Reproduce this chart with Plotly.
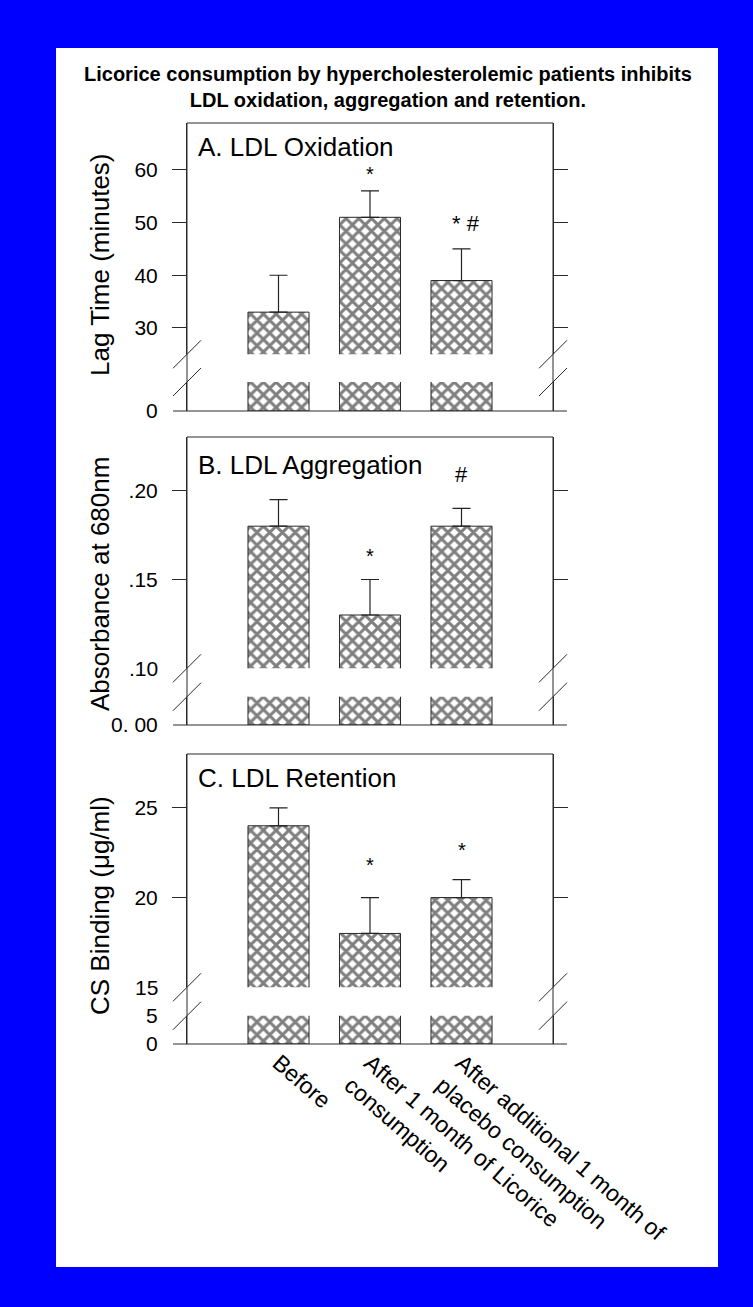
import plotly.graph_objects as go

# ---------------- data ----------------
categories = [
    "Before",
    "After 1 month of Licorice<br>consumption",
    "After additional 1 month of<br>placebo consumption",
]

oxidation_mean = [33, 51, 39]
oxidation_err = [7, 5, 6]
oxidation_marks = ["", "*", "* #"]

aggregation_mean = [0.18, 0.13, 0.18]
aggregation_err = [0.015, 0.02, 0.01]
aggregation_marks = ["", "*", "#"]

retention_mean = [24, 18, 20]
retention_err = [1, 2, 1]
retention_marks = ["", "*", "*"]

oxidation_ticks = [30, 40, 50, 60]
oxidation_ticktext = ["30", "40", "50", "60"]
aggregation_ticks = [0.15, 0.20]
aggregation_ticktext = [".15", ".20"]
retention_ticks = [20, 25]
retention_ticktext = ["20", "25"]

# ---------------- layout geometry (pixels) ----------------
W, H = 753, 1307
FONT = "Liberation Sans, Arial, Helvetica, sans-serif"
LINE = "#2a2a2a"
X_LEFT, X_RIGHT = 187, 553
TICK = 14


def px(x):
    return x / W


def py(y):
    return 1 - y / H


panels = [
    dict(mean=oxidation_mean, err=oxidation_err, marks=oxidation_marks,
         mark_shift=[0, 17, 25],
         up_range=[25, 68.9], lo_range=[0, 5.5],
         up_ticks=oxidation_ticks, up_text=oxidation_ticktext,
         lo_ticks=[0], lo_text=["0"], extra=None,
         top=123, brk_top=354.3, brk_bot=382, bottom=411,
         title="A. LDL Oxidation", title_y=147,
         ytitle="Lag Time (minutes)", ytitle_y=265),
    dict(mean=aggregation_mean, err=aggregation_err, marks=aggregation_marks,
         mark_shift=[0, 23, 34],
         up_range=[0.10, 0.2302], lo_range=[0, 0.016],
         up_ticks=aggregation_ticks, up_text=aggregation_ticktext,
         lo_ticks=[0], lo_text=["0. 00"], extra=(0.10, ".10"),
         top=437, brk_top=668.3, brk_bot=696.7, bottom=725,
         title="B. LDL Aggregation", title_y=465,
         ytitle="Absorbance at 680nm", ytitle_y=584),
    dict(mean=retention_mean, err=retention_err, marks=retention_marks,
         mark_shift=[0, 33, 30],
         up_range=[15, 28], lo_range=[0, 5],
         up_ticks=retention_ticks, up_text=retention_ticktext,
         lo_ticks=[0, 5], lo_text=["0", "5"], extra=(15, "15"),
         top=754, brk_top=987.3, brk_bot=1015.7, bottom=1044,
         title="C. LDL Retention", title_y=778,
         ytitle="CS Binding (μg/ml)", ytitle_y=906),
]

fig = go.Figure()

bar_marker = dict(
    color="white",
    pattern=dict(shape="x", fgcolor="black", bgcolor="white", size=9, solidity=0.55),
    line=dict(color=LINE, width=1),
)

shapes = [
    dict(type="rect", xref="paper", yref="paper", x0=px(56), x1=px(718),
         y0=py(1267), y1=py(48), fillcolor="white", line=dict(width=0), layer="below"),
]
annotations = [
    dict(xref="paper", yref="paper", x=px(388), y=py(87), xanchor="center", yanchor="middle",
         text="<b>Licorice consumption by hypercholesterolemic patients inhibits<br>"
              "LDL oxidation, aggregation and retention.</b>",
         showarrow=False, font=dict(family=FONT, size=20, color="black"), align="center"),
]

tick_font = dict(family=FONT, size=21, color="black")

for i, p in enumerate(panels):
    up_name = "y" if i == 0 else f"y{2 * i + 1}"
    lo_name = f"y{2 * i + 2}"
    up_key = "yaxis" if i == 0 else f"yaxis{2 * i + 1}"
    lo_key = f"yaxis{2 * i + 2}"

    fig.add_trace(go.Bar(
        x=categories, y=p["mean"], xaxis="x", yaxis=up_name, width=0.667,
        marker=bar_marker, showlegend=False,
        error_y=dict(type="data", array=p["err"], arrayminus=[0] * len(p["err"]),
                     symmetric=False, color="#222", thickness=1.2, width=9),
    ))
    fig.add_trace(go.Bar(
        x=categories, y=p["mean"], xaxis="x", yaxis=lo_name, width=0.667,
        marker=bar_marker, showlegend=False,
    ))

    fig.layout[up_key] = dict(
        domain=[py(p["brk_top"]), py(p["top"])], range=p["up_range"], anchor="x",
        tickmode="array", tickvals=p["up_ticks"], ticktext=p["up_text"],
        ticks="outside", ticklen=TICK, tickcolor=LINE, tickwidth=1, mirror="ticks",
        ticklabelstandoff=10,
        showline=True, linecolor=LINE, linewidth=1, automargin=False,
        showgrid=False, zeroline=False, tickfont=tick_font, fixedrange=True,
    )
    fig.layout[lo_key] = dict(
        domain=[py(p["bottom"]), py(p["brk_bot"])], range=p["lo_range"], anchor="x",
        tickmode="array", tickvals=p["lo_ticks"], ticktext=p["lo_text"],
        ticks="outside", ticklen=TICK, tickcolor="rgba(0,0,0,0)",
        ticklabelstandoff=10,
        showline=True, linecolor=LINE, linewidth=1, mirror=True, automargin=False,
        showgrid=False, zeroline=False, tickfont=tick_font, fixedrange=True,
    )

    # frame: spines through the break, top line, extended bottom line
    for xx in (X_LEFT, X_RIGHT):
        shapes.append(dict(type="line", xref="paper", yref="paper",
                           x0=px(xx), x1=px(xx), y0=py(p["top"]), y1=py(p["bottom"]),
                           line=dict(color=LINE, width=1)))
        for yb in (p["brk_top"], p["brk_bot"]):
            shapes.append(dict(type="line", xref="paper", yref="paper",
                               x0=px(xx - TICK), x1=px(xx + TICK),
                               y0=py(yb + TICK), y1=py(yb - TICK),
                               line=dict(color=LINE, width=1)))
    shapes.append(dict(type="line", xref="paper", yref="paper",
                       x0=px(X_LEFT), x1=px(X_RIGHT), y0=py(p["top"]), y1=py(p["top"]),
                       line=dict(color=LINE, width=1)))
    shapes.append(dict(type="line", xref="paper", yref="paper",
                       x0=px(X_LEFT - TICK), x1=px(X_RIGHT + TICK),
                       y0=py(p["bottom"]), y1=py(p["bottom"]),
                       line=dict(color=LINE, width=1)))

    # panel title
    annotations.append(dict(xref="paper", yref="paper", x=px(196), y=py(p["title_y"]),
                            xanchor="left", yanchor="middle", text=p["title"], showarrow=False,
                            font=dict(family=FONT, size=26, color="black")))
    # y axis title
    annotations.append(dict(xref="paper", yref="paper", x=px(100), y=py(p["ytitle_y"]),
                            xanchor="center", yanchor="middle", text=p["ytitle"], textangle=-90,
                            showarrow=False, font=dict(family=FONT, size=26, color="black")))
    # break label without tick
    if p["extra"] is not None:
        val, txt = p["extra"]
        annotations.append(dict(xref="paper", yref=up_name, x=px(160), y=val,
                                xanchor="right", yanchor="middle", text=txt, showarrow=False,
                                font=tick_font))
    # significance marks
    for cat, m, e, mk, sh in zip(categories, p["mean"], p["err"], p["marks"], p["mark_shift"]):
        if mk:
            annotations.append(dict(xref="x", yref=up_name, x=cat, y=m + e,
                                    xanchor="center", yanchor="middle", yshift=sh,
                                    xshift=4 if "#" in mk and "*" in mk else 0,
                                    text=mk, showarrow=False,
                                    font=dict(family=FONT, size=22 if "#" in mk else 20,
                                              color="black")))

fig.update_layout(
    width=W, height=H, autosize=False,
    margin=dict(l=0, r=0, t=0, b=0, pad=0, autoexpand=False),
    paper_bgcolor="#0000ff",
    plot_bgcolor="rgba(0,0,0,0)",
    showlegend=False,
    bargap=0.333,
    xaxis=dict(
        domain=[px(X_LEFT), px(X_RIGHT)], type="category", range=[-1, 3],
        anchor="y6", showline=False, ticks="", automargin=False,
        tickangle=41, showgrid=False, zeroline=False,
        tickfont=dict(family=FONT, size=23, color="black"), fixedrange=True,
    ),
    shapes=shapes,
    annotations=annotations,
)

fig.write_html(
    "out.html",
    config={"displayModeBar": False},
    post_script="document.body.style.margin='0px';document.body.style.overflow='hidden';",
)
